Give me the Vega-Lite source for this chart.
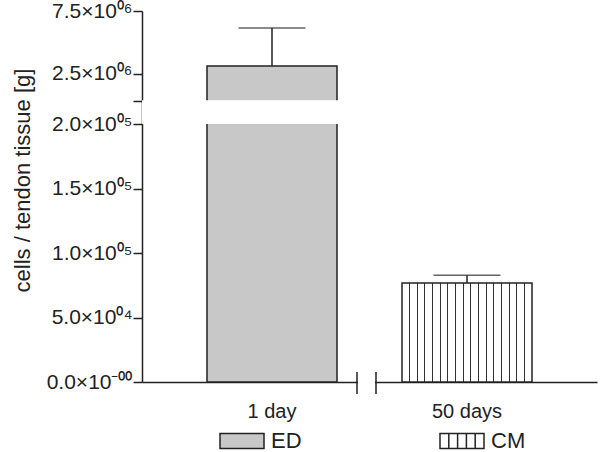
{
  "$schema": "https://vega.github.io/schema/vega-lite/v6.json",
  "autosize": {"type": "none"},
  "padding": {"left": 142, "top": 11, "right": 3, "bottom": 70},
  "width": 455,
  "height": 371,
  "config": {
    "view": {"stroke": null},
    "font": "Liberation Sans",
    "axisX": {
      "title": null, "labelAngle": 0, "labelAlign": "center", "labelBaseline": "top",
      "ticks": false, "tickSize": 0, "labelPadding": 19, "labelFontSize": 20, "labelColor": "#222",
      "domainColor": "#222", "domainWidth": 1.5, "labelFont": "Liberation Sans"
    },
    "axisY": {
      "titleFontSize": 22, "titleFontWeight": "normal", "titleColor": "#222", "titleFont": "Liberation Sans",
      "labelFontSize": 21, "labelColor": "#222", "labelPadding": 1, "labelFont": "Liberation Sans",
      "tickSize": 9, "tickWidth": 1.5, "tickColor": "#222",
      "domainColor": "#222", "domainWidth": 1.5, "grid": false
    },
    "legend": {
      "orient": "none",
      "legendX": 77,
      "legendY": 407,
      "direction": "horizontal",
      "columnPadding": 135,
      "labelOffset": 6,
      "symbolSize": 1936,
      "labelFontSize": 22,
      "labelColor": "#222",
      "labelFont": "Liberation Sans",
      "symbolStrokeColor": "#222",
      "symbolStrokeWidth": 1.5
    }
  },
  "data": {
    "values": [
      {"cat": "1 day", "group": "ED", "value": 3110000, "hi": 6140000},
      {"cat": "50 days", "group": "CM", "value": 76700, "hi": 82700}
    ]
  },
  "layer": [
    {
      "mark": {"type": "point", "filled": true, "stroke": "#222", "strokeWidth": 1.5, "yOffset": 15, "size": 20},
      "encoding": {
        "x": {
          "field": "cat", "type": "nominal",
          "scale": {"paddingInner": 0.3333, "paddingOuter": 0.3333},
          "axis": {"title": null, "labelAngle": 0, "labelAlign": "center"}
        },
        "y": {
          "field": "value", "type": "quantitative",
          "scale": {"domain": [0, 200000, 360000, 7500000], "range": [371, 113, 89.5, 0], "nice": false, "zero": false},
          "axis": {
            "title": "cells / tendon tissue [g]",
            "titleX": -113, "titleY": 169, "titleBaseline": "alphabetic", "titleAlign": "center", "titleAngle": -90,
            "values": [0, 50000, 100000, 150000, 200000, 360000, 2500000, 7500000],
            "labelExpr": "datum.value == 0 ? '0.0×10⁻⁰⁰' : datum.value == 50000 ? '5.0×10⁰⁴' : datum.value == 100000 ? '1.0×10⁰⁵' : datum.value == 150000 ? '1.5×10⁰⁵' : datum.value == 200000 ? '2.0×10⁰⁵' : datum.value == 2500000 ? '2.5×10⁰⁶' : datum.value == 7500000 ? '7.5×10⁰⁶' : ''"
          }
        },
        "fill": {"field": "group", "type": "nominal", "legend": {"title": null, "encode": {"symbols": {"update": {"stroke": {"value": "#222"}, "strokeWidth": {"value": 1.5}, "opacity": {"value": 1}}}}}},
        "shape": {
          "field": "group", "type": "nominal",
          "scale": {"domain": ["ED", "CM"], "range": ["M-1,-0.34H1V0.34H-1Z", "M-1,-0.34H1V0.34H-1Z M-0.6,-0.34V0.34 M-0.2,-0.34V0.34 M0.2,-0.34V0.34 M0.6,-0.34V0.34"]},
          "legend": {"title": null, "encode": {"symbols": {"update": {"stroke": {"value": "#222"}, "strokeWidth": {"value": 1.5}, "opacity": {"value": 1}}}}}
        }
      }
    },
    {
      "mark": {"type": "bar", "stroke": "#222", "strokeWidth": 1.5},
      "encoding": {
        "x": {"field": "cat", "type": "nominal"},
        "y": {"field": "value", "type": "quantitative"},
        "fill": {
          "condition": {
            "test": "datum.group === 'CM'",
            "value": {
              "gradient": "linear", "x1": 0, "y1": 0, "x2": 1, "y2": 0,
              "stops": [
                {"offset": 0, "color": "#ffffff"},
                {"offset": 0.0548, "color": "#ffffff"}, {"offset": 0.0548, "color": "#333333"}, {"offset": 0.0628, "color": "#333333"}, {"offset": 0.0628, "color": "#ffffff"},
                {"offset": 0.1136, "color": "#ffffff"}, {"offset": 0.1136, "color": "#333333"}, {"offset": 0.1216, "color": "#333333"}, {"offset": 0.1216, "color": "#ffffff"},
                {"offset": 0.1725, "color": "#ffffff"}, {"offset": 0.1725, "color": "#333333"}, {"offset": 0.1805, "color": "#333333"}, {"offset": 0.1805, "color": "#ffffff"},
                {"offset": 0.2313, "color": "#ffffff"}, {"offset": 0.2313, "color": "#333333"}, {"offset": 0.2393, "color": "#333333"}, {"offset": 0.2393, "color": "#ffffff"},
                {"offset": 0.2901, "color": "#ffffff"}, {"offset": 0.2901, "color": "#333333"}, {"offset": 0.2981, "color": "#333333"}, {"offset": 0.2981, "color": "#ffffff"},
                {"offset": 0.3489, "color": "#ffffff"}, {"offset": 0.3489, "color": "#333333"}, {"offset": 0.3569, "color": "#333333"}, {"offset": 0.3569, "color": "#ffffff"},
                {"offset": 0.4078, "color": "#ffffff"}, {"offset": 0.4078, "color": "#333333"}, {"offset": 0.4158, "color": "#333333"}, {"offset": 0.4158, "color": "#ffffff"},
                {"offset": 0.4666, "color": "#ffffff"}, {"offset": 0.4666, "color": "#333333"}, {"offset": 0.4746, "color": "#333333"}, {"offset": 0.4746, "color": "#ffffff"},
                {"offset": 0.5254, "color": "#ffffff"}, {"offset": 0.5254, "color": "#333333"}, {"offset": 0.5334, "color": "#333333"}, {"offset": 0.5334, "color": "#ffffff"},
                {"offset": 0.5842, "color": "#ffffff"}, {"offset": 0.5842, "color": "#333333"}, {"offset": 0.5922, "color": "#333333"}, {"offset": 0.5922, "color": "#ffffff"},
                {"offset": 0.6431, "color": "#ffffff"}, {"offset": 0.6431, "color": "#333333"}, {"offset": 0.6511, "color": "#333333"}, {"offset": 0.6511, "color": "#ffffff"},
                {"offset": 0.7019, "color": "#ffffff"}, {"offset": 0.7019, "color": "#333333"}, {"offset": 0.7099, "color": "#333333"}, {"offset": 0.7099, "color": "#ffffff"},
                {"offset": 0.7607, "color": "#ffffff"}, {"offset": 0.7607, "color": "#333333"}, {"offset": 0.7687, "color": "#333333"}, {"offset": 0.7687, "color": "#ffffff"},
                {"offset": 0.8195, "color": "#ffffff"}, {"offset": 0.8195, "color": "#333333"}, {"offset": 0.8275, "color": "#333333"}, {"offset": 0.8275, "color": "#ffffff"},
                {"offset": 0.8784, "color": "#ffffff"}, {"offset": 0.8784, "color": "#333333"}, {"offset": 0.8864, "color": "#333333"}, {"offset": 0.8864, "color": "#ffffff"},
                {"offset": 0.9372, "color": "#ffffff"}, {"offset": 0.9372, "color": "#333333"}, {"offset": 0.9452, "color": "#333333"}, {"offset": 0.9452, "color": "#ffffff"},
                {"offset": 1, "color": "#ffffff"}
              ]
            }
          },
          "field": "group", "type": "nominal",
          "scale": {"domain": ["ED", "CM"], "range": ["#c8c8c8", "#ffffff"]},
          "legend": {"title": null, "encode": {"symbols": {"update": {"stroke": {"value": "#222"}, "strokeWidth": {"value": 1.5}, "opacity": {"value": 1}}}}}
        }
      }
    },
    {
      "mark": {"type": "rect", "fill": "#ffffff"},
      "encoding": {
        "y": {"datum": 200000},
        "y2": {"datum": 360000}
      }
    },
    {
      "mark": {"type": "rule", "color": "#222", "strokeWidth": 1.5},
      "encoding": {
        "x": {"field": "cat", "type": "nominal"},
        "y": {"field": "value", "type": "quantitative"},
        "y2": {"field": "hi"}
      }
    },
    {
      "mark": {"type": "tick", "color": "#222", "thickness": 1.5, "size": 67},
      "encoding": {
        "x": {"field": "cat", "type": "nominal"},
        "y": {"field": "hi", "type": "quantitative"}
      }
    },
    {
      "transform": [{"filter": "datum.group === 'ED'"}],
      "mark": {"type": "rect", "fill": "#ffffff", "xOffset": 21, "x2Offset": 38, "yOffset": 2, "y2Offset": -2},
      "encoding": {
        "x": {"field": "cat", "type": "nominal", "bandPosition": 1},
        "x2": {"field": "cat", "bandPosition": 1},
        "y": {"datum": 0},
        "y2": {"datum": 0}
      }
    },
    {
      "transform": [{"filter": "datum.group === 'ED'"}],
      "mark": {"type": "rule", "color": "#222", "strokeWidth": 1.5, "xOffset": 20, "yOffset": 12, "y2Offset": -10},
      "encoding": {
        "x": {"field": "cat", "type": "nominal", "bandPosition": 1},
        "y": {"datum": 0},
        "y2": {"datum": 0}
      }
    },
    {
      "transform": [{"filter": "datum.group === 'ED'"}],
      "mark": {"type": "rule", "color": "#222", "strokeWidth": 1.5, "xOffset": 39, "yOffset": 12, "y2Offset": -10},
      "encoding": {
        "x": {"field": "cat", "type": "nominal", "bandPosition": 1},
        "y": {"datum": 0},
        "y2": {"datum": 0}
      }
    }
  ]
}
